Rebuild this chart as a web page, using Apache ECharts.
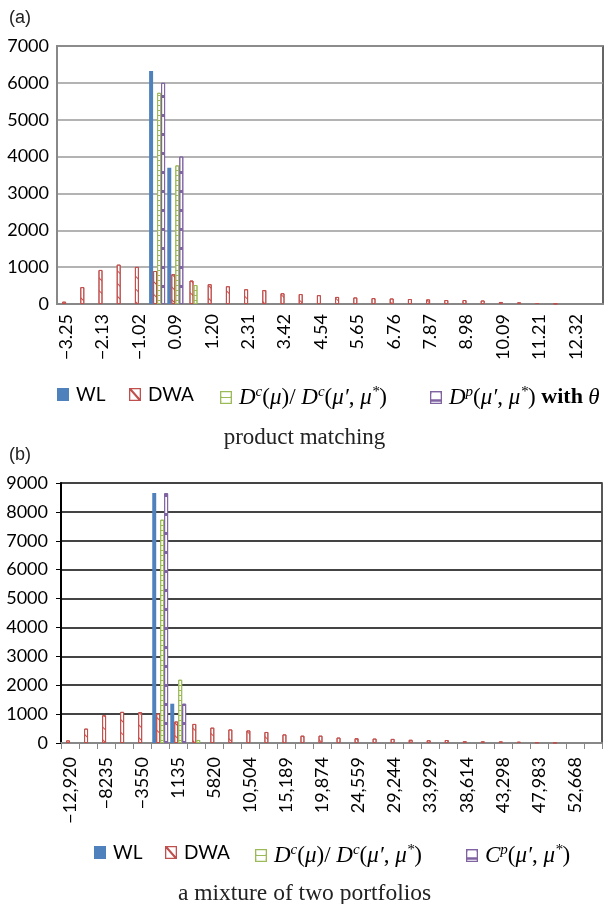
<!DOCTYPE html>
<html>
<head>
<meta charset="utf-8">
<script src="https://cdn.jsdelivr.net/npm/echarts@6/dist/echarts.min.js"></script>
<style>
  html, body { margin: 0; padding: 0; background: #fff; }
  #chart { width: 609px; height: 904px; }
</style>
</head>
<body>
<div id="chart"></div>
<script>
// (a) product matching
const catsA = ['−3.25', '−2.69', '−2.13', '−1.58', '−1.02', '−0.47', '0.09', '0.65', '1.20', '1.76',
  '2.31', '2.87', '3.42', '3.98', '4.54', '5.09', '5.65', '6.21', '6.76', '7.32',
  '7.87', '8.43', '8.98', '9.54', '10.09', '10.65', '11.21', '11.76', '12.32', '12.88']
const wlA = [0, 0, 0, 0, 0, 6320, 3700, 0, 0, 0, 0, 0, 0, 0, 0, 0, 0, 0, 0, 0, 0, 0, 0, 0, 0, 0, 0, 0, 0, 0]
const dwaA = [63, 458, 924, 1068, 1006, 895, 808, 636, 537, 482, 400, 380, 292, 270, 240, 192, 178, 160, 150, 135,
  125, 108, 108, 95, 55, 45, 27, 12, 0, 0]
const dcA = [0, 0, 0, 0, 0, 5730, 3760, 515, 0, 0, 0, 0, 0, 0, 0, 0, 0, 0, 0, 0, 0, 0, 0, 0, 0, 0, 0, 0, 0, 0]
const dpA = [0, 0, 0, 0, 0, 6000, 4000, 0, 0, 0, 0, 0, 0, 0, 0, 0, 0, 0, 0, 0, 0, 0, 0, 0, 0, 0, 0, 0, 0, 0]

// (b) a mixture of two portfolios
const catsB = ['−12,920', '−10,577', '−8235', '−5892', '−3550', '−1207', '1135', '3477', '5820', '8162',
  '10,504', '12,847', '15,189', '17,532', '19,874', '22,216', '24,559', '26,901', '29,244', '31,586',
  '33,929', '36,271', '38,614', '40,956', '43,298', '45,641', '47,983', '50,325', '52,668', '55,010']
const wlB = [0, 0, 0, 0, 0, 8650, 1360, 0, 0, 0, 0, 0, 0, 0, 0, 0, 0, 0, 0, 0, 0, 0, 0, 0, 0, 0, 0, 0, 0, 0]
const dwaB = [90, 498, 960, 1078, 1065, 1020, 745, 660, 532, 470, 435, 382, 298, 254, 254, 188, 166, 153, 142, 112,
  94, 104, 62, 58, 56, 45, 24, 12, 0, 0]
const dcB = [0, 0, 0, 0, 0, 7730, 2190, 105, 0, 0, 0, 0, 0, 0, 0, 0, 0, 0, 0, 0, 0, 0, 0, 0, 0, 0, 0, 0, 0, 0]
const cpB = [0, 0, 0, 0, 0, 8650, 1360, 0, 0, 0, 0, 0, 0, 0, 0, 0, 0, 0, 0, 0, 0, 0, 0, 0, 0, 0, 0, 0, 0, 0]

const BLUE = '#4F81BD'
const RED = '#C0504D'
const GREEN = '#9BBB59'
const PURPLE = '#8064A2'
const SANS = 'Lato'
const SERIF = 'Liberation Serif'

// bar styles, white bars with a pattern like the excel fills
const styles = {
  WL: { color: BLUE },
  DWA: {
    color: '#fff', borderColor: RED, borderWidth: 1,
    decal: { symbol: 'rect', symbolSize: 1, color: RED, dashArrayX: [1, 0], dashArrayY: [1, 8], rotation: Math.PI / 4 }
  },
  Dc: {
    color: '#fff', borderColor: GREEN, borderWidth: 1,
    decal: { symbol: 'rect', symbolSize: 1, color: GREEN, dashArrayX: [1, 0], dashArrayY: [1, 4] }
  },
  Dp: {
    color: '#fff', borderColor: PURPLE, borderWidth: 1,
    decal: { symbol: 'rect', symbolSize: 1, color: PURPLE, dashArrayX: [1, 0], dashArrayY: [3, 16] }
  }
}

function bars (name, style, data, idx) {
  return {
    name: name,
    type: 'bar',
    xAxisIndex: idx,
    yAxisIndex: idx,
    // empty bins are left out so no outline shows on the axis
    data: data.map(v => (v === 0 ? '-' : v)),
    barGap: '0%',
    barCategoryGap: '12%',
    itemStyle: style,
    emphasis: { disabled: true },
    animation: false
  }
}

// legend icons (12x13 boxes)
const FRAME = 'M0,0H12V13H0Z M1.3,1.3V11.7H10.7V1.3Z '
const icons = {
  WL: 'rect',
  DWA: 'path://' + FRAME + 'M1.3,1.3L2.8,1.3L10.7,10.2L10.7,11.7L9.2,11.7L1.3,2.8Z',
  Dc: 'path://' + FRAME + 'M1.3,5.9H10.7V7.1H1.3Z',
  Dp: 'path://' + FRAME + 'M1.3,8.3H10.7V10.8H1.3Z'
}
const iconColors = { WL: BLUE, DWA: RED, Dc: GREEN, Dp: PURPLE, Cp: PURPLE }

const mathRich = {
  m: { fontFamily: SERIF, fontStyle: 'italic', fontSize: 23, color: '#000' },
  r: { fontFamily: SERIF, fontSize: 23, color: '#000' },
  s: { fontFamily: SERIF, fontStyle: 'italic', fontSize: 15, color: '#000', padding: [0, 0, 10, 0] },
  b: { fontFamily: SERIF, fontWeight: 'bold', fontSize: 22, color: '#000' },
  t: { fontFamily: SANS, fontSize: 19, color: '#000' }
}

const labels = {
  WL: '{t|WL}',
  DWA: '{t|DWA}',
  Dc: '{m|D}{s|c}{r|(}{m|μ}{r|)/ }{m|D}{s|c}{r|(}{m|μ′}{r|, }{m|μ}{s|*}{r|)}',
  Dp: '{m|D}{s|p}{r|(}{m|μ′}{r|, }{m|μ}{s|*}{r|) }{b|with }{m|θ}',
  Cp: '{m|C}{s|p}{r|(}{m|μ′}{r|, }{m|μ}{s|*}{r|)}'
}

function legendItem (name, icon, left, top) {
  return {
    left: left,
    top: top,
    itemWidth: 12,
    itemHeight: 13,
    selectedMode: false,
    data: [{ name: name, icon: icons[icon], itemStyle: { color: iconColors[name], borderWidth: 0 } }],
    formatter: n => labels[n],
    textStyle: { rich: mathRich, padding: [0, 0, 0, 2] }
  }
}

function xAxis (idx, cats, withTicks) {
  return {
    type: 'category',
    gridIndex: idx,
    data: cats,
    axisLine: { lineStyle: { color: '#888', width: 2 } },
    axisTick: { show: withTicks, interval: 0, length: 6, lineStyle: { color: '#888', width: 1 } },
    axisLabel: { interval: 1, rotate: 90, fontFamily: SANS, fontSize: 18, color: '#000', margin: withTicks ? 14 : 10 },
    splitLine: { show: false }
  }
}

function yAxis (idx, max, dark) {
  return {
    type: 'value',
    gridIndex: idx,
    min: 0,
    max: max,
    interval: 1000,
    axisLine: { show: true, lineStyle: { color: dark ? '#000' : '#888', width: 2 } },
    axisTick: { show: dark, length: 5, lineStyle: { color: '#000' } },
    axisLabel: { fontFamily: SANS, fontSize: 18, color: '#000', margin: dark ? 13 : 8, formatter: v => String(v) },
    splitLine: { lineStyle: { color: dark ? '#444' : '#9a9a9a', width: dark ? 2 : 1.5 } }
  }
}

const chart = echarts.init(document.getElementById('chart'), null, { width: 609, height: 904 })

const option = {
  backgroundColor: '#fff',
  animation: false,
  title: [
    { text: '(a)', left: 4, top: 4, textStyle: { fontFamily: 'Liberation Sans', fontWeight: 'normal', fontSize: 18, color: '#222' } },
    { text: 'product matching', left: 'center', top: 421, textStyle: { fontFamily: SERIF, fontWeight: 'normal', fontSize: 23, color: '#222' } },
    { text: '(b)', left: 4, top: 441, textStyle: { fontFamily: 'Liberation Sans', fontWeight: 'normal', fontSize: 18, color: '#222' } },
    { text: 'a mixture of two portfolios', left: 'center', top: 877, textStyle: { fontFamily: SERIF, fontWeight: 'normal', fontSize: 23.5, color: '#222' } }
  ],
  legend: [
    legendItem('WL', 'WL', 52, 380),
    legendItem('DWA', 'DWA', 124, 380),
    legendItem('Dc', 'Dc', 215, 380),
    legendItem('Dp', 'Dp', 425, 380),
    legendItem('WL', 'WL', 89, 838),
    legendItem('DWA', 'DWA', 160, 838),
    legendItem('Dc', 'Dc', 250, 838),
    legendItem('Cp', 'Dp', 461, 838)
  ],
  grid: [
    { left: 57, top: 46, width: 546, height: 258, show: true, borderColor: '#333', borderWidth: 1.5, backgroundColor: 'transparent' },
    { left: 61, top: 483, width: 541, height: 260, show: true, borderColor: '#222', borderWidth: 1.5, backgroundColor: 'transparent' }
  ],
  xAxis: [xAxis(0, catsA, false), xAxis(1, catsB, true)],
  yAxis: [yAxis(0, 7000, false), yAxis(1, 9000, true)],
  series: [
    bars('WL', styles.WL, wlA, 0),
    bars('DWA', styles.DWA, dwaA, 0),
    bars('Dc', styles.Dc, dcA, 0),
    bars('Dp', styles.Dp, dpA, 0),
    bars('WL', styles.WL, wlB, 1),
    bars('DWA', styles.DWA, dwaB, 1),
    bars('Dc', styles.Dc, dcB, 1),
    bars('Cp', styles.Dp, cpB, 1)
  ]
}

chart.setOption(option)
</script>
</body>
</html>
